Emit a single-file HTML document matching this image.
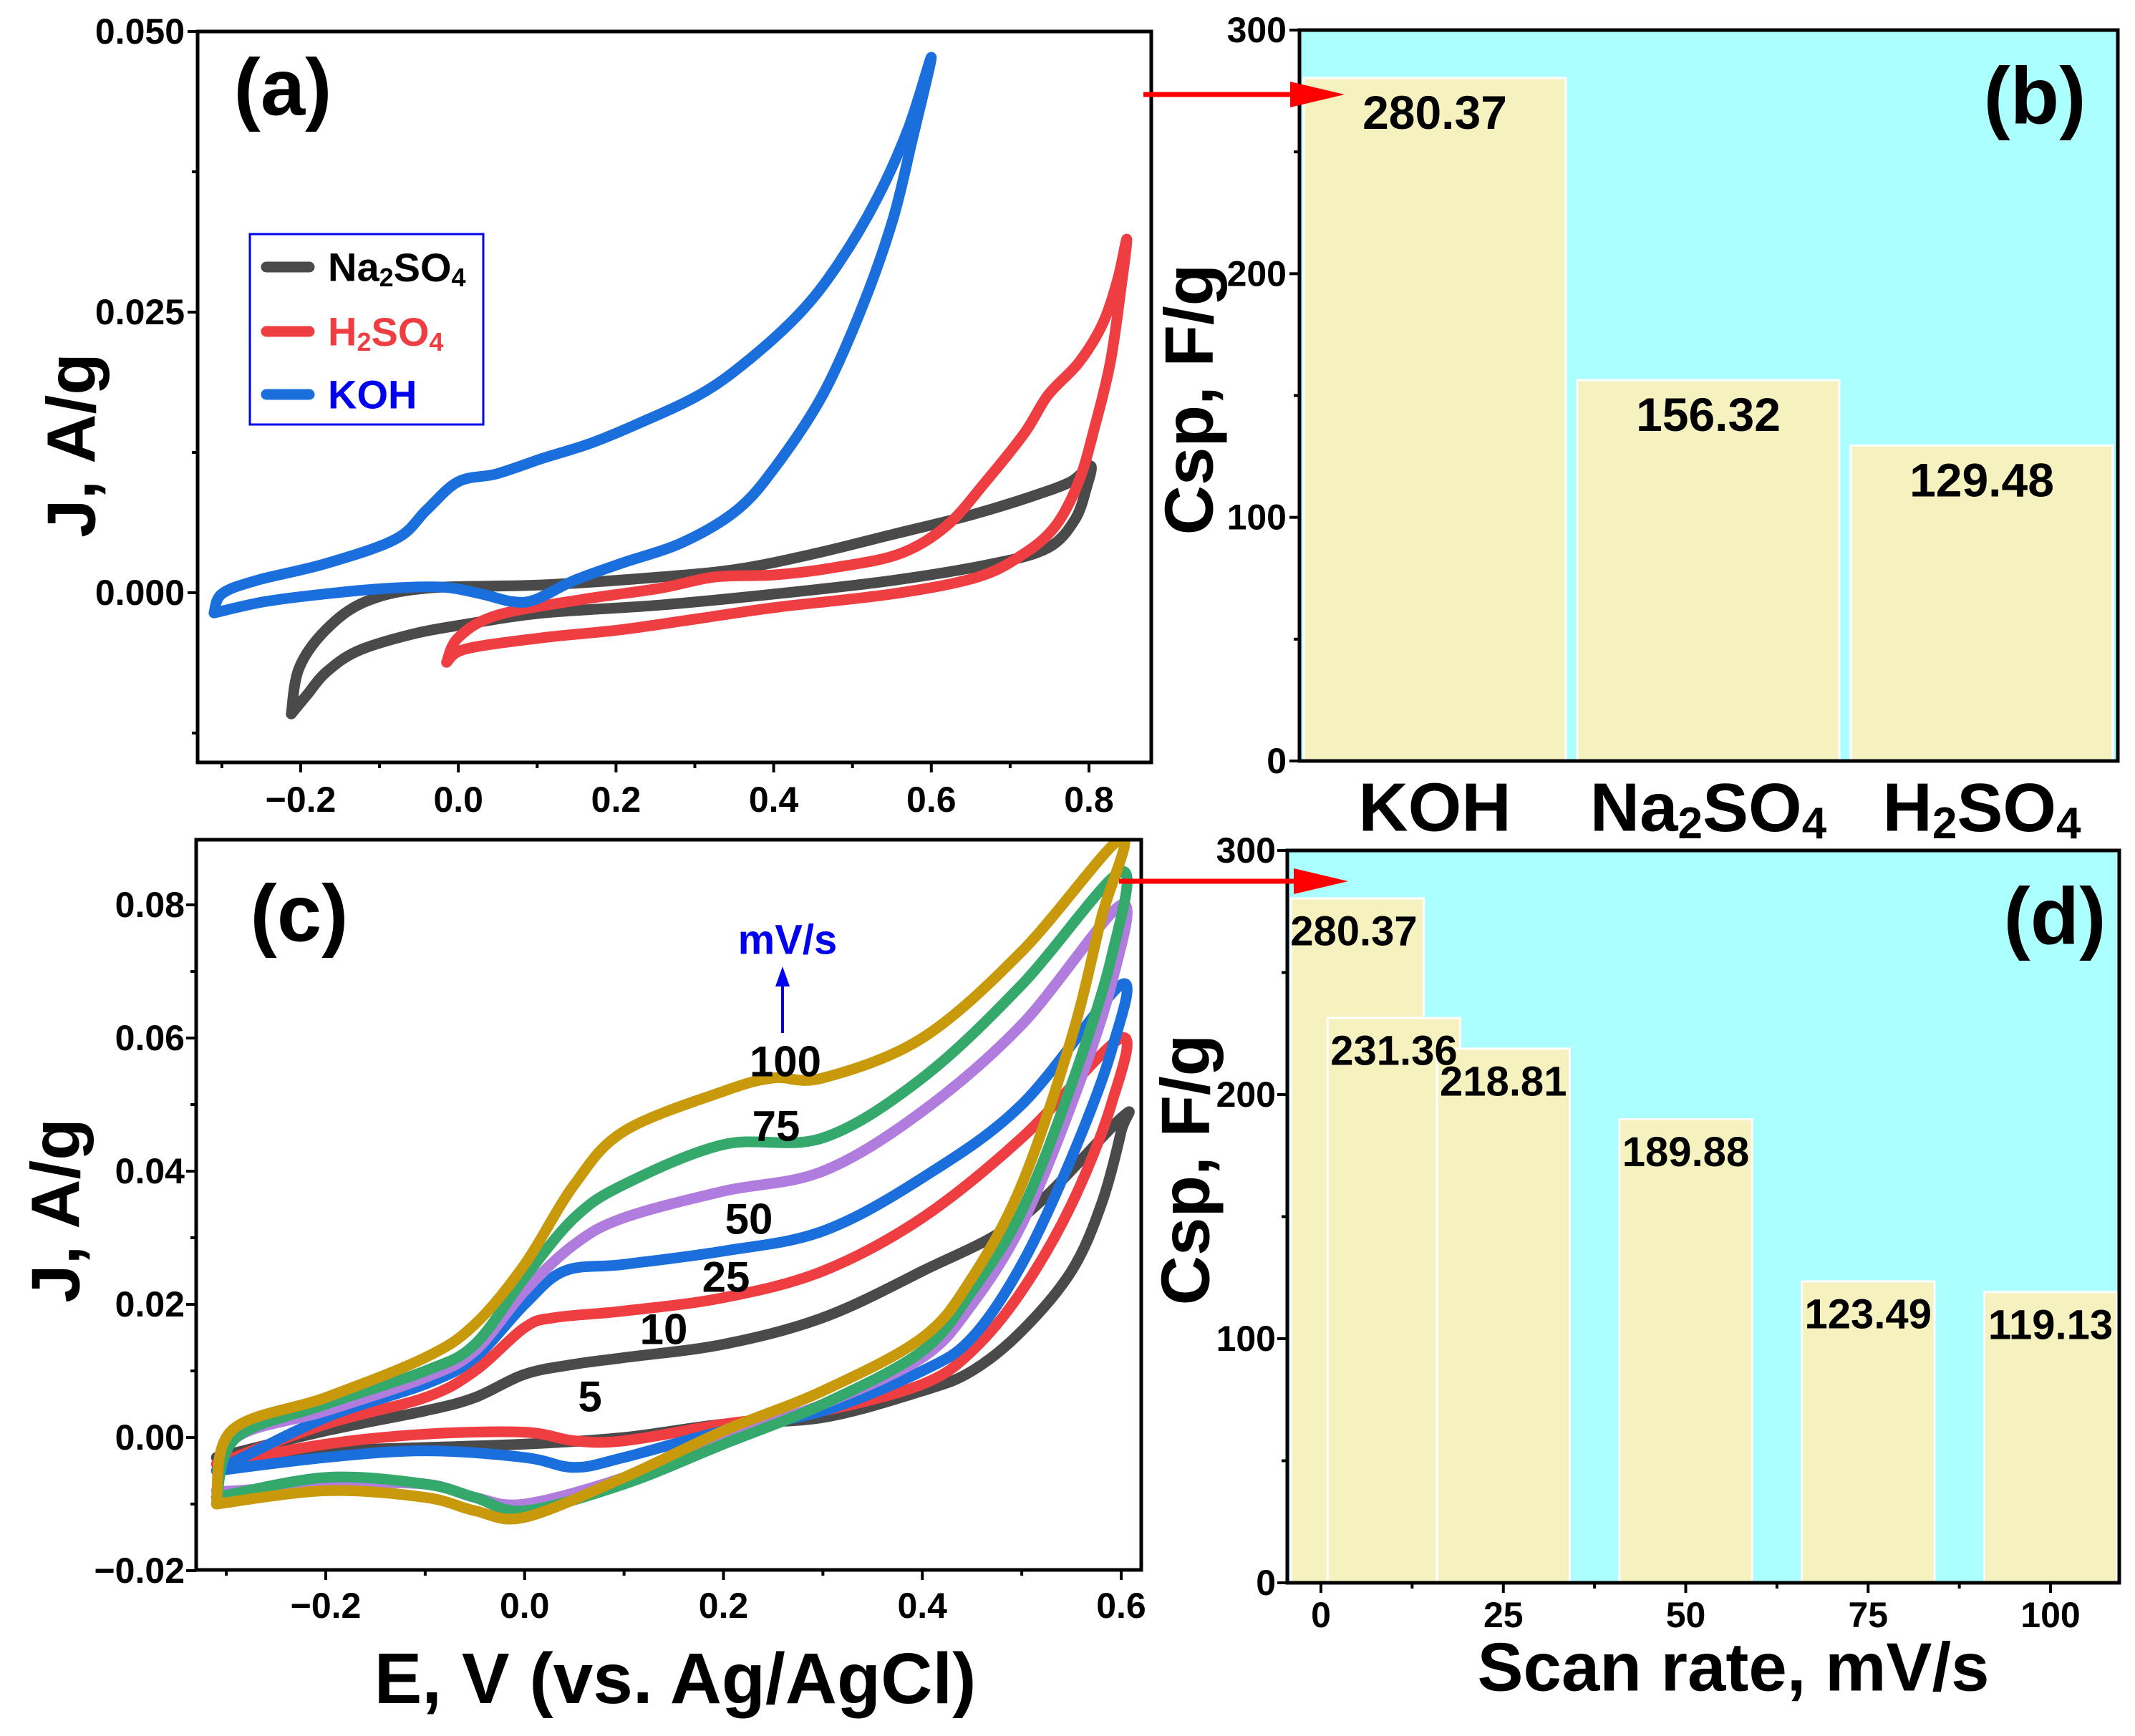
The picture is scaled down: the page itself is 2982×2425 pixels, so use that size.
<!DOCTYPE html>
<html><head><meta charset="utf-8"><style>
html,body{margin:0;padding:0;background:#fff}
svg{display:block}
text{font-family:"Liberation Sans Narrow","Liberation Sans",sans-serif;font-weight:bold;fill:#000}
.w{font-family:"Liberation Sans",sans-serif}
</style></head><body>
<svg id="fig" width="2982" height="2425" viewBox="0 0 2982 2425" xmlns="http://www.w3.org/2000/svg"></svg>
<script>
// ---------- DATA ----------
// Panel (a): CV loops in different electrolytes [E (V), J (A/g)]
const cvNa2SO4 = [[-0.212,-0.0108],[-0.202,-0.0067],[-0.168,-0.0033],[-0.118,-0.0008],[-0.040,0.0004],[0.108,0.0007],[0.256,0.0014],[0.354,0.0021],[0.453,0.0035],[0.551,0.0052],[0.649,0.0069],[0.728,0.0086],[0.777,0.0099],[0.802,0.0113],[0.797,0.0094],[0.782,0.0065],[0.748,0.0040],[0.679,0.0026],[0.551,0.0011],[0.403,-0.0001],[0.256,-0.0011],[0.108,-0.0018],[0.010,-0.0028],[-0.059,-0.0037],[-0.128,-0.0052],[-0.168,-0.0071],[-0.192,-0.0091],[-0.212,-0.0108]];
const cvH2SO4 = [[-0.015,-0.0062],[0.000,-0.0040],[0.049,-0.0020],[0.157,-0.0006],[0.256,0.0004],[0.325,0.0014],[0.403,0.0016],[0.482,0.0023],[0.561,0.0035],[0.620,0.0060],[0.669,0.0099],[0.718,0.0142],[0.748,0.0176],[0.787,0.0205],[0.817,0.0239],[0.836,0.0278],[0.848,0.0315],[0.841,0.0273],[0.827,0.0205],[0.807,0.0147],[0.787,0.0099],[0.758,0.0060],[0.718,0.0035],[0.659,0.0014],[0.551,-0.0001],[0.403,-0.0013],[0.305,-0.0023],[0.206,-0.0033],[0.108,-0.0040],[0.010,-0.0050],[-0.015,-0.0062]];
const cvKOH = [[-0.310,-0.0018],[-0.300,-0.0001],[-0.256,0.0011],[-0.168,0.0026],[-0.079,0.0048],[-0.040,0.0074],[0.000,0.0099],[0.049,0.0106],[0.108,0.0120],[0.167,0.0133],[0.226,0.0150],[0.305,0.0176],[0.364,0.0205],[0.433,0.0249],[0.482,0.0293],[0.531,0.0351],[0.571,0.0414],[0.600,0.0477],[0.576,0.0404],[0.551,0.0332],[0.512,0.0254],[0.462,0.0176],[0.403,0.0113],[0.354,0.0074],[0.285,0.0045],[0.206,0.0026],[0.147,0.0011],[0.098,-0.0006],[0.069,-0.0008],[0.029,-0.0001],[-0.020,0.0005],[-0.089,0.0004],[-0.168,-0.0001],[-0.246,-0.0008],[-0.310,-0.0018]];
// Panel (b)
const electrolytes = ["KOH","Na2SO4","H2SO4"];
const cspElectrolyte = [280.37,156.32,129.48];
// Panel (c): CV at scan rates
const scanLabels = ["5","10","25","50","75","100"];
const cv5 = [[-0.31,-0.003],[-0.2,0.001],[-0.1,0.004],[-0.05,0.006],[0.0,0.0095],[0.05,0.011],[0.1,0.012],[0.2,0.014],[0.3,0.018],[0.4,0.025],[0.5,0.033],[0.6,0.048],[0.6,0.046],[0.58,0.035],[0.55,0.025],[0.5,0.016],[0.45,0.010],[0.4,0.007],[0.3,0.003],[0.2,0.002],[0.1,0.0],[0.0,-0.001],[-0.1,-0.0015],[-0.2,-0.002],[-0.31,-0.003]];
const cv10 = [[-0.31,-0.004],[-0.2,0.002],[-0.1,0.006],[-0.05,0.010],[0.0,0.0165],[0.03,0.018],[0.1,0.019],[0.2,0.021],[0.3,0.025],[0.4,0.033],[0.5,0.045],[0.6,0.060],[0.59,0.050],[0.55,0.035],[0.5,0.022],[0.45,0.013],[0.4,0.008],[0.3,0.004],[0.2,0.002],[0.1,-0.0005],[0.05,-0.0005],[0.0,0.0008],[-0.1,0.0005],[-0.2,-0.001],[-0.31,-0.004]];
const cv25 = [[-0.31,-0.005],[-0.2,0.003],[-0.1,0.008],[-0.05,0.012],[0.0,0.020],[0.04,0.025],[0.1,0.026],[0.2,0.028],[0.3,0.031],[0.4,0.039],[0.5,0.050],[0.6,0.068],[0.59,0.058],[0.55,0.042],[0.5,0.026],[0.45,0.015],[0.4,0.010],[0.3,0.004],[0.2,0.001],[0.1,-0.003],[0.05,-0.0045],[0.0,-0.003],[-0.1,-0.002],[-0.2,-0.003],[-0.31,-0.005]];
const cv50 = [[-0.31,-0.008],[-0.29,0.0],[-0.2,0.004],[-0.1,0.009],[-0.05,0.013],[0.0,0.022],[0.05,0.029],[0.1,0.033],[0.2,0.037],[0.3,0.040],[0.4,0.049],[0.5,0.062],[0.6,0.080],[0.59,0.068],[0.55,0.050],[0.5,0.032],[0.45,0.020],[0.4,0.012],[0.3,0.005],[0.2,0.0],[0.1,-0.006],[0.0,-0.010],[-0.05,-0.009],[-0.1,-0.007],[-0.2,-0.007],[-0.29,-0.008],[-0.31,-0.008]];
const cv75 = [[-0.31,-0.009],[-0.29,0.0],[-0.2,0.005],[-0.1,0.010],[-0.05,0.014],[0.0,0.024],[0.05,0.033],[0.1,0.038],[0.2,0.044],[0.3,0.045],[0.4,0.054],[0.5,0.068],[0.6,0.085],[0.59,0.072],[0.55,0.053],[0.5,0.034],[0.45,0.022],[0.4,0.013],[0.3,0.005],[0.2,-0.001],[0.1,-0.007],[0.0,-0.011],[-0.05,-0.009],[-0.1,-0.007],[-0.2,-0.006],[-0.31,-0.009]];
const cv100 = [[-0.31,-0.010],[-0.295,0.001],[-0.2,0.006],[-0.1,0.012],[-0.05,0.017],[0.0,0.026],[0.05,0.038],[0.1,0.046],[0.2,0.052],[0.25,0.054],[0.3,0.054],[0.4,0.060],[0.5,0.073],[0.6,0.090],[0.58,0.078],[0.55,0.060],[0.5,0.038],[0.45,0.024],[0.4,0.015],[0.3,0.007],[0.2,0.001],[0.1,-0.006],[0.0,-0.012],[-0.05,-0.011],[-0.1,-0.009],[-0.2,-0.008],[-0.31,-0.010]];
// Panel (d)
const scanRates = [5,10,25,50,75,100];
const cspScan = [280.37,231.36,218.81,189.88,123.49,119.13];
const cspScanLabels = ["280.37","231.36","218.81","189.88","123.49","119.13"];

// ---------- HELPERS ----------
const NS="http://www.w3.org/2000/svg";
const svg=document.getElementById('fig');
function mk(tag,attrs,parent){const e=document.createElementNS(NS,tag);for(const k in attrs)e.setAttribute(k,attrs[k]);(parent||svg).appendChild(e);return e;}
function txt(s,x,y,size,attrs,parent){const e=mk('text',Object.assign({x:x,y:y,'font-size':size,'dominant-baseline':'central','text-anchor':'middle'},attrs||{}),parent);e.textContent=s;return e;}
function lin(d0,d1,p0,p1){return v=>p0+(v-d0)/(d1-d0)*(p1-p0);}
function smoothPath(pts){
  let d="M"+pts[0][0].toFixed(1)+","+pts[0][1].toFixed(1);
  for(let i=0;i<pts.length-1;i++){
    const p0=pts[Math.max(0,i-1)],p1=pts[i],p2=pts[i+1],p3=pts[Math.min(pts.length-1,i+2)];
    const c1=[p1[0]+(p2[0]-p0[0])/6,p1[1]+(p2[1]-p0[1])/6];
    const c2=[p2[0]-(p3[0]-p1[0])/6,p2[1]-(p3[1]-p1[1])/6];
    d+=" C"+c1[0].toFixed(1)+","+c1[1].toFixed(1)+" "+c2[0].toFixed(1)+","+c2[1].toFixed(1)+" "+p2[0].toFixed(1)+","+p2[1].toFixed(1);
  }
  return d;
}
const defs=mk('defs',{});
function clip(id,x,y,w,h){const c=mk('clipPath',{id:id},defs);mk('rect',{x:x,y:y,width:w,height:h},c);}

// ---------- PANEL A ----------
const ax=lin(-0.2,0.8,420,1521), ay=lin(0,0.025,828,436);
clip('ca',276,44,1332,1021);
const ga=mk('g',{'clip-path':'url(#ca)'});


[[cvNa2SO4,'#4a4a4a','cv-na2so4'],[cvH2SO4,'#ef3e42','cv-h2so4'],[cvKOH,'#1b6fdd','cv-koh']].forEach(s=>{
  const p=mk('path',{d:smoothPath(s[0].map(q=>[ax(q[0]),ay(q[1])])),fill:'none',stroke:s[1],'stroke-width':15,'stroke-linejoin':'round','stroke-linecap':'round'},ga);
  
  
});
const fa=mk('rect',{x:276,y:44,width:1332,height:1021,fill:'none',stroke:'#000','stroke-width':5});


[0,0.025,0.05].forEach(v=>{mk('line',{x1:262,x2:276,y1:ay(v),y2:ay(v),stroke:'#000','stroke-width':4});
  const t=txt(v.toFixed(3),258,ay(v),50,{'text-anchor':'end'});});
[-0.0125,0.0125,0.0375].forEach(v=>mk('line',{x1:268,x2:276,y1:ay(v),y2:ay(v),stroke:'#000','stroke-width':4}));
[-0.2,0,0.2,0.4,0.6,0.8].forEach(v=>{mk('line',{x1:ax(v),x2:ax(v),y1:1065,y2:1079,stroke:'#000','stroke-width':4});
  const t=txt((v<0?'\u2212':'')+Math.abs(v).toFixed(1),ax(v),1117,50);});
[-0.3,-0.1,0.1,0.3,0.5,0.7].forEach(v=>mk('line',{x1:ax(v),x2:ax(v),y1:1065,y2:1073,stroke:'#000','stroke-width':4}));
let t=txt('(a)',395,122,112,{class:'w'});
t=txt('J, A/g',100,622,96,{class:'w',transform:'rotate(-90 100 622)'});
const lg=mk('g',{});
mk('rect',{x:349,y:327,width:326,height:266,fill:'#fff',stroke:'#0000ee','stroke-width':3},lg);
const legItems=[['#4a4a4a','Na','2','SO','4','#000',373],['#ef3e42','H','2','SO','4','#ef3e42',463],['#1b6fdd','KOH','','','','#0000ee',551]];
legItems.forEach(li=>{
  const g=mk('g',{},lg);
  mk('line',{x1:372,x2:432,y1:li[6],y2:li[6],stroke:li[0],'stroke-width':15,'stroke-linecap':'round'},g);
  const e=mk('text',{x:458,y:li[6],'font-size':56,'dominant-baseline':'central',style:'fill:'+li[5]},g);
  e.appendChild(document.createTextNode(li[1]));
  if(li[2]){const s1=mk('tspan',{'font-size':36,dy:14},e);s1.textContent=li[2];const s2=mk('tspan',{dy:-14},e);s2.textContent=li[3];const s3=mk('tspan',{'font-size':36,dy:14},e);s3.textContent=li[4];}
});

// ---------- PANEL B ----------
const by=lin(0,300,1063,42);
const bL=1815,bR=2958;
const bg=mk('rect',{x:bL,y:42,width:bR-bL,height:1021,fill:'#abffff'});
const bBarL=[1821,2204,2585], bBarW=366;
const bx=i=>1821+i*382;
electrolytes.forEach((c,i)=>{
  const r=mk('rect',{x:bx(i),y:by(cspElectrolyte[i]),width:bBarW,height:by(0)-by(cspElectrolyte[i]),fill:'#f6f2c0',stroke:'#fff','stroke-width':3});
  
  
  const l=txt(cspElectrolyte[i].toFixed(2),bx(i)+bBarW/2,by(cspElectrolyte[i])+48,66);
  
  
  const e=mk('text',{x:bx(i)+bBarW/2,y:1128,'font-size':96,'dominant-baseline':'central','text-anchor':'middle',class:'w'});
  
  
  const m=c.match(/^([A-Za-z]+?)(\d?)(SO)?(\d?)$/);
  if(c==='KOH'){e.textContent='KOH';}else{
    const base=c.startsWith('Na')?'Na':'H';
    e.appendChild(document.createTextNode(base));
    const s1=mk('tspan',{'font-size':62,dy:22},e);s1.textContent='2';
    const s2=mk('tspan',{dy:-22},e);s2.textContent='SO';
    const s3=mk('tspan',{'font-size':62,dy:22},e);s3.textContent='4';
  }
});
mk('rect',{x:bL,y:42,width:bR-bL,height:1021,fill:'none',stroke:'#000','stroke-width':5});
[0,100,200,300].forEach(v=>{mk('line',{x1:1801,x2:bL,y1:by(v),y2:by(v),stroke:'#000','stroke-width':4});
  const t=txt(String(v),1797,by(v),50,{'text-anchor':'end'});});
[50,150,250].forEach(v=>mk('line',{x1:1807,x2:bL,y1:by(v),y2:by(v),stroke:'#000','stroke-width':4}));
t=txt('(b)',2842,134,112,{class:'w'});
t=txt('Csp, F/g',1661,558,96,{class:'w',transform:'rotate(-90 1661 558)'});

// ---------- PANEL C ----------
const cx=lin(-0.2,0.6,455,1566), cy=lin(0,0.08,2008,1264);
clip('cc',274,1173,1320,1020);
const gc=mk('g',{'clip-path':'url(#cc)'});


const cSeries=[cv5,cv10,cv25,cv50,cv75,cv100];
const cColors=['#4a4a4a','#ef3e42','#1b6fdd','#b07ddf','#35a86c','#c9990c'];
cSeries.forEach((s,i)=>{
  const p=mk('path',{d:smoothPath(s.map(q=>[cx(q[0]),cy(q[1])])),fill:'none',stroke:cColors[i],'stroke-width':15,'stroke-linejoin':'round','stroke-linecap':'round'},gc);
  
  
});
mk('rect',{x:274,y:1173,width:1320,height:1020,fill:'none',stroke:'#000','stroke-width':5});
[-0.02,0,0.02,0.04,0.06,0.08].forEach(v=>{mk('line',{x1:260,x2:274,y1:cy(v),y2:cy(v),stroke:'#000','stroke-width':4});
  const t=txt((v<0?'\u2212':'')+Math.abs(v).toFixed(2),258,cy(v),50,{'text-anchor':'end'});});
[-0.01,0.01,0.03,0.05,0.07].forEach(v=>mk('line',{x1:266,x2:274,y1:cy(v),y2:cy(v),stroke:'#000','stroke-width':4}));
[-0.2,0,0.2,0.4,0.6].forEach(v=>{mk('line',{x1:cx(v),x2:cx(v),y1:2193,y2:2207,stroke:'#000','stroke-width':4});
  const t=txt((v<0?'\u2212':'')+Math.abs(v).toFixed(1),cx(v),2243,50);});
[-0.3,-0.1,0.1,0.3,0.5].forEach(v=>mk('line',{x1:cx(v),x2:cx(v),y1:2193,y2:2201,stroke:'#000','stroke-width':4}));
t=txt('(c)',418,1276,112,{class:'w'});
t=txt('J, A/g',78,1691,96,{class:'w',transform:'rotate(-90 78 1691)'});
t=txt('E, V (vs. Ag/AgCl)',943,2345,100,{class:'w'});
t=txt('mV/s',1100,1313,58,{style:'fill:#0000ee'});
const ar=mk('g',{});
mk('line',{x1:1093,x2:1093,y1:1443,y2:1370,stroke:'#0000ee','stroke-width':4},ar);
mk('polygon',{points:'1083,1378 1103,1378 1093,1350',fill:'#0000ee'},ar);
const cLabPos=[[824,1951],[927,1857],[1014,1784],[1046,1703],[1084,1573],[1097,1483]];
scanLabels.forEach((s,i)=>{const t=txt(s,cLabPos[i][0],cLabPos[i][1],60);});

// ---------- PANEL D ----------
const dx=lin(0,100,1845,2864), dy=lin(0,300,2211,1188);
const dL=1798,dR=2960;
const dbg=mk('rect',{x:dL,y:1188,width:dR-dL,height:1023,fill:'#abffff'});
const barW=dx(18.2)-dx(0);
scanRates.forEach((r,i)=>{
  const rc=mk('rect',{x:dx(r)-barW/2,y:dy(cspScan[i]),width:barW,height:dy(0)-dy(cspScan[i]),fill:'#f6f2c0',stroke:'#fff','stroke-width':3});
  
  
});
scanRates.forEach((r,i)=>{
  const l=txt(cspScanLabels[i],dx(r)+(i===0?-5:0),dy(cspScan[i])+46,58);
  
  
});
mk('rect',{x:dL,y:1188,width:dR-dL,height:1023,fill:'none',stroke:'#000','stroke-width':5});
[0,100,200,300].forEach(v=>{mk('line',{x1:1784,x2:dL,y1:dy(v),y2:dy(v),stroke:'#000','stroke-width':4});
  const t=txt(String(v),1782,dy(v),50,{'text-anchor':'end'});});
[50,150,250].forEach(v=>mk('line',{x1:1790,x2:dL,y1:dy(v),y2:dy(v),stroke:'#000','stroke-width':4}));
[0,25,50,75,100].forEach(v=>{mk('line',{x1:dx(v),x2:dx(v),y1:2211,y2:2225,stroke:'#000','stroke-width':4});
  const t=txt(String(v),dx(v),2256,50);});
[12.5,37.5,62.5,87.5].forEach(v=>mk('line',{x1:dx(v),x2:dx(v),y1:2211,y2:2219,stroke:'#000','stroke-width':4}));
t=txt('(d)',2870,1280,112,{class:'w'});
t=txt('Csp, F/g',1656,1634,96,{class:'w',transform:'rotate(-90 1656 1634)'});
t=txt('Scan rate, mV/s',2421,2329,96,{class:'w'});

// ---------- RED ARROWS ----------
[[1597,1802,1878,132],[1563,1807,1883,1231]].forEach((a,i)=>{
  const g=mk('g',{});
  
  
  mk('line',{x1:a[0],x2:a[1]+5,y1:a[3],y2:a[3],stroke:'#ff0000','stroke-width':7},g);
  mk('polygon',{points:a[1]+','+(a[3]-18)+' '+a[2]+','+a[3]+' '+a[1]+','+(a[3]+18),fill:'#ff0000'},g);
});
</script>
</body></html>
